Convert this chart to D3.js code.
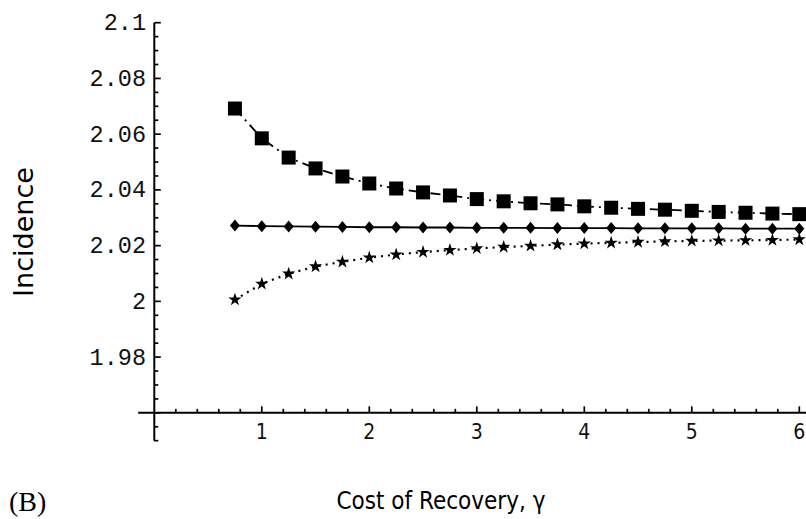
<!DOCTYPE html>
<html>
<head>
<meta charset="utf-8">
<script src="https://cdn.jsdelivr.net/npm/d3@7/dist/d3.min.js"></script>
<style>
html,body{margin:0;padding:0;background:#fff;}
svg{display:block;}
</style>
</head>
<body>
<svg id="chart" width="806" height="519"></svg>
<script>
const gammaValues = [0.75,1,1.25,1.5,1.75,2,2.25,2.5,2.75,3,3.25,3.5,3.75,4,4.25,4.5,4.75,5,5.25,5.5,5.75,6];
const squareSeries = [2.0692,2.0585,2.0516,2.0477,2.0448,2.0423,2.0405,2.0391,2.0380,2.0367,2.0359,2.0352,2.0348,2.0341,2.0336,2.0332,2.0329,2.0325,2.0321,2.0318,2.0315,2.0313];
const diamondSeries = [2.0272,2.0270,2.0269,2.0268,2.0267,2.0266,2.0266,2.0265,2.0265,2.0264,2.0264,2.0264,2.0263,2.0263,2.0263,2.0262,2.0262,2.0262,2.0262,2.0261,2.0261,2.0261];
const starSeries = [2.0006,2.0063,2.0099,2.0125,2.0142,2.0157,2.0168,2.0177,2.0184,2.0190,2.0195,2.0199,2.0204,2.0207,2.0210,2.0213,2.0215,2.0217,2.0218,2.0219,2.0220,2.0222];
const xTickLabels = ["1","2","3","4","5","6"];
const yTickLabels = ["1.98","2","2.02","2.04","2.06","2.08","2.1"];

const svg = d3.select("#chart");
const x = d3.scaleLinear().domain([0, 6]).range([154.3, 799.3]);
const y = d3.scaleLinear().domain([1.95, 2.1]).range([440.7, 22.7]);

const axisY0 = 1.96;

// y axis line
svg.append("line").attr("x1", x(0)).attr("x2", x(0)).attr("y1", y(2.1)).attr("y2", y(1.95))
  .attr("stroke", "#000").attr("stroke-width", 2);
// x axis line
svg.append("line").attr("x1", x(-0.15)).attr("x2", 806).attr("y1", y(axisY0)).attr("y2", y(axisY0))
  .attr("stroke", "#000").attr("stroke-width", 2);

// y ticks
const yMinor = d3.range(0, 31).map(i => +(1.95 + i * 0.005).toFixed(3));
const isMajorY = d => { const m = Math.round(d * 1000) % 20; return m === 0; };
svg.append("g").selectAll("line").data(yMinor).join("line")
  .attr("x1", x(0)).attr("x2", d => x(0) + (isMajorY(d) ? 6.5 : 4))
  .attr("y1", d => y(d)).attr("y2", d => y(d))
  .attr("stroke", "#000").attr("stroke-width", 1.7);

// x ticks
const xMinor = d3.range(1, 31).map(i => +(i * 0.2).toFixed(2));
svg.append("g").selectAll("line").data(xMinor).join("line")
  .attr("x1", d => x(d)).attr("x2", d => x(d))
  .attr("y1", y(axisY0)).attr("y2", d => y(axisY0) - (Math.abs(d - Math.round(d)) < 0.001 ? 6.5 : 4))
  .attr("stroke", "#000").attr("stroke-width", 1.7);

// y tick labels
svg.append("g").selectAll("text").data(yTickLabels).join("text")
  .attr("x", 146).attr("y", d => y(+d) + 7.5)
  .attr("text-anchor", "end")
  .attr("font-family", "'Liberation Mono', 'DejaVu Sans Mono', monospace")
  .attr("font-size", 23.5).attr("fill", "#111")
  .text(d => d);

// x tick labels
svg.append("g").selectAll("text").data(xTickLabels).join("text")
  .attr("x", d => x(+d)).attr("y", 439)
  .attr("text-anchor", "middle")
  .attr("font-family", "'DejaVu Sans Condensed', 'DejaVu Sans', sans-serif")
  .attr("font-size", 21).attr("fill", "#111")
  .text(d => d);

// axis titles
svg.append("text").attr("transform", "translate(33,232) rotate(-90)")
  .attr("text-anchor", "middle")
  .attr("font-family", "'DejaVu Sans', sans-serif")
  .attr("font-size", 27).attr("fill", "#000")
  .text("Incidence");
svg.append("text").attr("x", 441).attr("y", 509)
  .attr("text-anchor", "middle")
  .attr("font-family", "'DejaVu Sans Condensed', 'DejaVu Sans', sans-serif")
  .attr("font-size", 24).attr("fill", "#000")
  .text("Cost of Recovery, \u03b3");
svg.append("text").attr("x", 9).attr("y", 511)
  .attr("font-family", "'Liberation Serif', 'DejaVu Serif', serif")
  .attr("font-size", 28).attr("fill", "#000")
  .text("(B)");

const line = d3.line().x(d => x(d[0])).y(d => y(d[1]));
const sq = gammaValues.map((g, i) => [g, squareSeries[i]]);
const di = gammaValues.map((g, i) => [g, diamondSeries[i]]);
const st = gammaValues.map((g, i) => [g, starSeries[i]]);

svg.append("path").datum(sq).attr("d", line).attr("fill", "none")
  .attr("stroke", "#000").attr("stroke-width", 1.8).attr("stroke-dasharray", "10,5,2,5");
svg.append("path").datum(di).attr("d", line).attr("fill", "none")
  .attr("stroke", "#000").attr("stroke-width", 1.8);
svg.append("path").datum(st).attr("d", line).attr("fill", "none")
  .attr("stroke", "#000").attr("stroke-width", 2.2).attr("stroke-dasharray", "2,5");

// markers
svg.append("g").selectAll("rect").data(sq).join("rect")
  .attr("x", d => x(d[0]) - 7).attr("y", d => y(d[1]) - 7)
  .attr("width", 14).attr("height", 14).attr("fill", "#000");
svg.append("g").selectAll("path").data(di).join("path")
  .attr("d", "M0,-6 L5,0 L0,6 L-5,0 Z")
  .attr("transform", d => `translate(${x(d[0])},${y(d[1])})`)
  .attr("fill", "#000");
svg.append("g").selectAll("path").data(st).join("path")
  .attr("d", d3.symbol().type(d3.symbolStar).size(55)())
  .attr("transform", d => `translate(${x(d[0])},${y(d[1])})`)
  .attr("fill", "#000");
</script>
</body>
</html>
